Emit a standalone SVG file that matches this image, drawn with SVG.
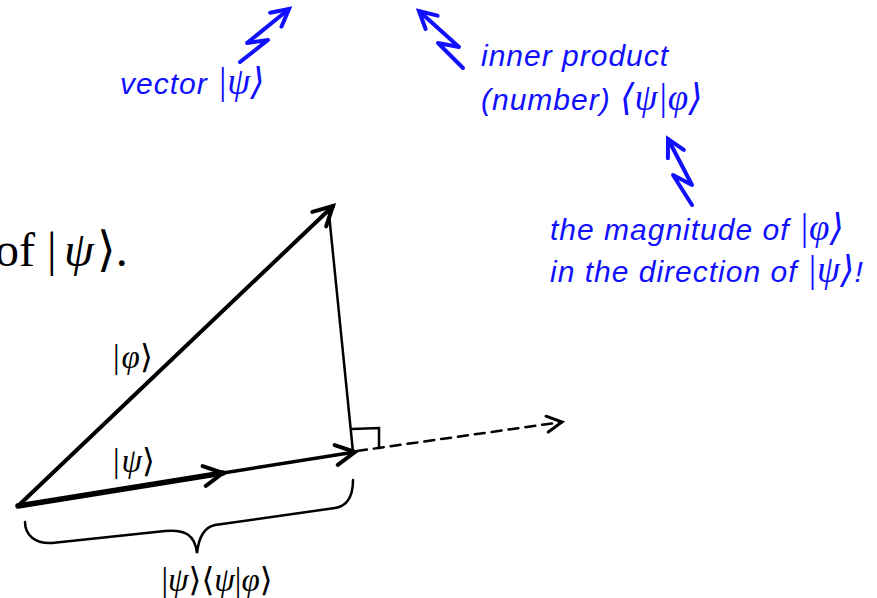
<svg xmlns="http://www.w3.org/2000/svg" width="877" height="598" viewBox="0 0 877 598">
<style>
.blue{font-family:"Liberation Sans",Arial,sans-serif;font-style:italic;font-size:30px;fill:#1010ff;letter-spacing:1px}
.bm{font-family:"Liberation Serif","DejaVu Serif",serif;font-size:37px;letter-spacing:0}
.gi{font-style:italic}
.math{font-family:"Liberation Serif","DejaVu Serif",serif;font-size:33px;fill:#000}
.big{font-family:"Liberation Serif","DejaVu Serif",serif;font-size:48px;fill:#000}
.ln{stroke:#000;fill:none;stroke-linecap:round}
.bl{stroke:#1010ff;fill:none;stroke-width:4;stroke-linecap:round;stroke-linejoin:round}
</style>
<defs>
<marker id="ah" markerUnits="userSpaceOnUse" viewBox="-22 -12 26 24" refX="0" refY="0" markerWidth="26" markerHeight="24" orient="auto">
<path d="M-19,-10 L0,0 L-19,10" fill="none" stroke="#000" stroke-width="4" stroke-linecap="round" stroke-linejoin="miter"/>
</marker>
<marker id="ahs" markerUnits="userSpaceOnUse" viewBox="-18 -10 22 20" refX="0" refY="0" markerWidth="22" markerHeight="20" orient="auto">
<path d="M-15,-8 L0,0 L-15,8" fill="none" stroke="#000" stroke-width="3" stroke-linecap="round"/>
</marker>
<marker id="ahb" markerUnits="userSpaceOnUse" viewBox="-20 -11 24 22" refX="0" refY="0" markerWidth="24" markerHeight="22" orient="auto">
<path d="M-17,-9 L0,0 L-17,9" fill="none" stroke="#1010ff" stroke-width="4" stroke-linecap="round"/>
</marker>
</defs>

<g id="heading">
<text class="big" x="-5" y="266">of</text>
<text class="big" x="47" y="266">|</text>
<text class="big gi" x="64" y="266">ψ</text>
<text class="big" x="97" y="266">⟩.</text>
</g>

<g id="connectors">
<line class="ln" x1="18" y1="506" x2="333" y2="206" stroke-width="4" marker-end="url(#ah)"/>
<line class="ln" x1="18" y1="506" x2="223" y2="473" stroke-width="5.5" marker-end="url(#ah)"/>
<line class="ln" x1="223" y1="473" x2="355" y2="452" stroke-width="3.5" marker-end="url(#ah)"/>
<line class="ln" x1="329" y1="214" x2="353" y2="452" stroke-width="2.5"/>
<polyline class="ln" points="352,429 379,428 379,448" stroke-width="2.5" stroke-linecap="butt"/>
<line class="ln" x1="357" y1="451" x2="562" y2="422" stroke-width="2.5" stroke-dasharray="10,7" stroke-linecap="butt" marker-end="url(#ahs)"/>
<path class="ln" stroke-width="2.5" d="M25,522 C25,535 35,544 52,543 L165,531 C185,529 195,535 197,553 C199,535 205,527 215,525 L335,508 C348,506 353,495 353,480"/>
<path class="bl" d="M240,62 L268,40 L247,43 L289,9" marker-end="url(#ahb)"/>
<path class="bl" d="M463,68 L438,43 L459,47 L419,11" marker-end="url(#ahb)"/>
<path class="bl" d="M692,205 L673,175 L692,185 L668,139" marker-end="url(#ahb)"/>
</g>

<g id="label-phi">
<text class="math" x="113" y="368">|<tspan class="gi" dx="2">φ</tspan>⟩</text>
</g>
<g id="label-psi">
<text class="math" x="113" y="472">|<tspan class="gi" dx="2">ψ</tspan>⟩</text>
</g>
<g id="label-projection">
<text class="math" x="217" y="591" text-anchor="middle">|<tspan class="gi">ψ</tspan>⟩⟨<tspan class="gi">ψ</tspan>|<tspan class="gi">φ</tspan>⟩</text>
</g>

<g id="note-vector">
<text class="blue" x="120" y="94">vector <tspan class="bm">|<tspan class="gi">ψ</tspan>⟩</tspan></text>
</g>
<g id="note-inner">
<text class="blue" x="481" y="66">inner product</text>
<text class="blue" x="481" y="110">(number) <tspan class="bm">⟨<tspan class="gi">ψ</tspan>|<tspan class="gi">φ</tspan>⟩</tspan></text>
</g>
<g id="note-magnitude">
<text class="blue" x="550" y="240">the magnitude of <tspan class="bm">|<tspan class="gi">φ</tspan>⟩</tspan></text>
<text class="blue" x="550" y="282">in the direction of <tspan class="bm">|<tspan class="gi">ψ</tspan>⟩</tspan>!</text>
</g>
</svg>
